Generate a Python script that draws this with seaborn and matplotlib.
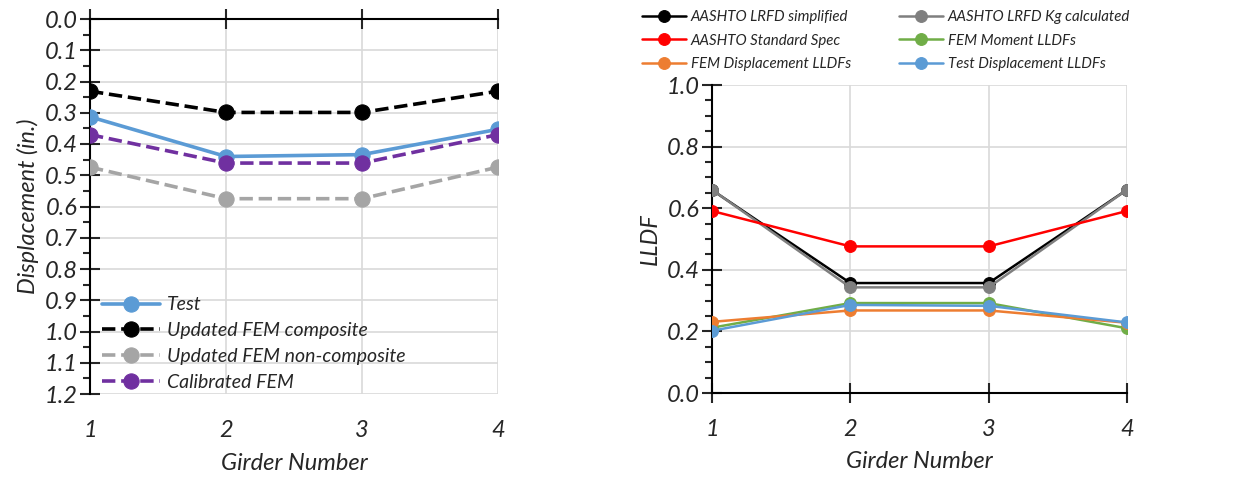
import matplotlib
matplotlib.use("Agg")
import matplotlib.pyplot as plt
import seaborn as sns
import numpy as np

# girders on the x axis
girders = [1, 2, 3, 4]

# left panel: displacement (in.)
disp_test = [0.313, 0.440, 0.434, 0.353]
disp_composite = [0.231, 0.299, 0.299, 0.231]
disp_noncomposite = [0.474, 0.575, 0.575, 0.474]
disp_calibrated = [0.370, 0.461, 0.461, 0.370]

# right panel: LLDF
lldf_simplified = [0.659, 0.357, 0.357, 0.660]
lldf_kg = [0.660, 0.343, 0.343, 0.660]
lldf_standard = [0.591, 0.476, 0.476, 0.591]
lldf_fem_moment = [0.212, 0.292, 0.292, 0.210]
lldf_fem_disp = [0.231, 0.268, 0.268, 0.228]
lldf_test = [0.202, 0.286, 0.283, 0.229]

sns.set_style("white")
plt.rcParams['font.family'] = ['Lato', 'DejaVu Sans']
plt.rcParams['font.style'] = 'italic'

fig = plt.figure(figsize=(12.33, 4.78), dpi=100)
W, H = 1233, 478
ax1 = fig.add_axes([90 / W, 1 - 394 / H, 408 / W, 375 / H])
ax2 = fig.add_axes([712 / W, 1 - 393 / H, 415 / W, 308 / H])

grid_c = '#d9d9d9'

# ---- left panel
left_series = [
    ('Test', disp_test, '#5b9bd5', '-'),
    ('Updated FEM composite', disp_composite, 'black', '--'),
    ('Updated FEM non-composite', disp_noncomposite, '#a5a5a5', '--'),
    ('Calibrated FEM', disp_calibrated, '#7030a0', '--'),
]
for name, vals, c, ls in left_series:
    sns.lineplot(x=girders, y=vals, ax=ax1, color=c, linestyle=ls, lw=2.6,
                 marker='o', markersize=11, markeredgecolor=c, label=name,
                 dashes=False if ls == '-' else (5, 3), zorder=3)

ax1.set_xlim(1, 4)
ax1.set_ylim(1.2, 0)
ax1.set_xticks(girders)
ax1.set_yticks(np.arange(0, 1.21, 0.1))
ax1.set_yticklabels([f'{v:.1f}' for v in np.arange(0, 1.21, 0.1)])
ax1.set_yticks(np.arange(0.05, 1.2, 0.1), minor=True)
ax1.grid(True, which='major', color=grid_c, lw=1.2, zorder=0)
for s in ['bottom', 'right']:
    ax1.spines[s].set_visible(False)
for s in ['top', 'left']:
    ax1.spines[s].set_color('black')
    ax1.spines[s].set_linewidth(1.5)
ax1.tick_params(axis='x', top=True, bottom=False, labeltop=False, labelbottom=True,
                direction='inout', length=14, width=1.5, labelsize=17, pad=12)
ax1.tick_params(axis='y', which='major', left=True, direction='inout', length=14,
                width=1.5, labelsize=17, pad=2)
ax1.tick_params(axis='y', which='minor', left=True, direction='out', length=5, width=1.5)
ax1.set_xlabel('Girder Number', fontsize=17, labelpad=8)
ax1.set_ylabel('Displacement (in.)', fontsize=17, labelpad=4)
ax1.legend(loc='lower left', bbox_to_anchor=(0.0, -0.022), frameon=False, fontsize=14,
           handlelength=3.0, handletextpad=0.35, labelspacing=0.45, borderaxespad=0.2)

# ---- right panel
right_series = [
    ('AASHTO LRFD simplified', lldf_simplified, 'black'),
    ('AASHTO LRFD Kg calculated', lldf_kg, '#7f7f7f'),
    ('AASHTO Standard Spec', lldf_standard, '#ff0000'),
    ('FEM Moment LLDFs', lldf_fem_moment, '#70ad47'),
    ('FEM Displacement LLDFs', lldf_fem_disp, '#ed7d31'),
    ('Test Displacement LLDFs', lldf_test, '#5b9bd5'),
]
for name, vals, c in right_series:
    sns.lineplot(x=girders, y=vals, ax=ax2, color=c, lw=1.8, marker='o',
                 markersize=8.5, markeredgecolor=c, label=name, zorder=3)

ax2.set_xlim(1, 4)
ax2.set_ylim(0, 1.0)
ax2.set_xticks(girders)
ax2.set_yticks(np.arange(0, 1.01, 0.2))
ax2.set_yticklabels([f'{v:.1f}' for v in np.arange(0, 1.01, 0.2)])
ax2.set_yticks(np.arange(0.05, 1.0, 0.05), minor=True)
ax2.grid(True, which='major', color=grid_c, lw=1.2, zorder=0)
for s in ['top', 'right']:
    ax2.spines[s].set_visible(False)
for s in ['bottom', 'left']:
    ax2.spines[s].set_color('black')
    ax2.spines[s].set_linewidth(1.5)
ax2.tick_params(axis='x', bottom=True, direction='inout', length=14, width=1.5,
                labelsize=17, pad=12)
ax2.tick_params(axis='y', which='major', left=True, direction='inout', length=14,
                width=1.5, labelsize=17, pad=2)
ax2.tick_params(axis='y', which='minor', left=True, direction='out', length=5, width=1.5)
ax2.set_xlabel('Girder Number', fontsize=17, labelpad=8)
ax2.set_ylabel('LLDF', fontsize=17, labelpad=4)

handles, labels = ax2.get_legend_handles_labels()
order = [0, 2, 4, 1, 3, 5]
ax2.legend([handles[i] for i in order], [labels[i] for i in order],
           loc='lower left', bbox_to_anchor=(636 / W, 1 - 77 / H), bbox_transform=fig.transFigure,
           ncol=2, frameon=False, fontsize=10.8, handlelength=2.9, handletextpad=0.35,
           labelspacing=0.62, columnspacing=3.2, borderaxespad=0)

fig.savefig('out.png', dpi=100)
